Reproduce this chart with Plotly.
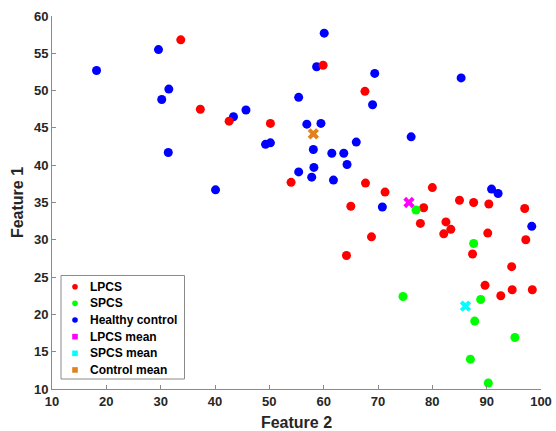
import plotly.graph_objects as go

lpcs_x = [33.7, 37.3, 42.6, 50.2, 59.9, 67.6, 54.0, 67.7, 71.3, 80.0,
          65.0, 64.2, 68.8, 78.4, 85.0, 87.6, 90.4, 97.0, 77.8, 82.5,
          83.4, 82.1, 90.2, 97.2, 87.4, 94.6, 89.7, 94.7, 98.4, 92.6]
lpcs_y = [56.8, 47.5, 45.9, 45.6, 53.4, 49.9, 37.7, 37.6, 36.4, 37.0,
          34.5, 27.9, 30.4, 34.3, 35.3, 35.0, 34.8, 34.2, 32.2, 32.4,
          31.4, 30.8, 30.9, 30.0, 28.1, 26.4, 23.9, 23.3, 23.3, 22.5]

spcs_x = [77.0, 87.6, 88.9, 74.6, 87.8, 95.2, 87.0, 90.3]
spcs_y = [34.0, 29.5, 22.0, 22.4, 19.1, 16.9, 14.0, 10.8]

hc_x = [18.2, 29.6, 31.5, 30.2, 31.4, 60.1, 58.7, 55.4, 69.4, 69.0,
        43.4, 45.7, 56.9, 59.5, 49.3, 50.2, 58.1, 66.0, 61.5, 63.7,
        64.3, 58.2, 55.4, 57.8, 61.8, 40.1, 85.3, 76.1, 90.9, 92.1,
        70.8, 98.3]
hc_y = [52.7, 55.5, 50.2, 48.8, 41.7, 57.7, 53.2, 49.1, 52.3, 48.1,
        46.5, 47.4, 45.5, 45.6, 42.8, 43.0, 42.1, 43.1, 41.6, 41.6,
        40.1, 39.7, 39.1, 38.4, 38.0, 36.7, 51.7, 43.8, 36.8, 36.2,
        34.4, 31.8]

lpcs_mean = [75.7, 35.0]
spcs_mean = [86.1, 21.1]
ctrl_mean = [58.1, 44.2]

names = ["LPCS", "SPCS", "Healthy control", "LPCS mean", "SPCS mean", "Control mean"]
colors = ["#FF0000", "#00FF00", "#0000FF", "#FF00FF", "#00FFFF", "#E0821E"]

fig = go.Figure()

series = [
    (hc_x, hc_y, 2, "circle"),
    (lpcs_x, lpcs_y, 0, "circle"),
    (spcs_x, spcs_y, 1, "circle"),
    ([lpcs_mean[0]], [lpcs_mean[1]], 3, "x"),
    ([spcs_mean[0]], [spcs_mean[1]], 4, "x"),
    ([ctrl_mean[0]], [ctrl_mean[1]], 5, "x"),
]
for xs, ys, ci, sym in series:
    fig.add_trace(go.Scatter(
        x=xs, y=ys, mode="markers", showlegend=False,
        marker=dict(color=colors[ci], size=9 if sym == "circle" else 10,
                    symbol=sym, line=dict(width=0)),
        hoverinfo="skip"))

# ---- compact legend (box, swatches, labels) in paper coordinates ----
W, H = 556, 431
ML, MR, MT, MB = 52, 15, 16, 42
PW, PH = W - ML - MR, H - MT - MB


def px2paper_x(px):
    return (px - ML) / PW


def px2paper_y(py):
    return (H - MB - py) / PH


shapes = [dict(type="rect", xref="paper", yref="paper",
               x0=px2paper_x(61), x1=px2paper_x(184.5),
               y0=px2paper_y(379), y1=px2paper_y(275.5),
               line=dict(color="#8a8a8a", width=1), fillcolor="white", layer="above")]
annotations = []
row0, step = 286.7, 16.65
for i, nm in enumerate(names):
    py = row0 + i * step
    shapes.append(dict(
        type="circle" if i < 3 else "rect", xref="paper", yref="paper",
        xsizemode="pixel", ysizemode="pixel",
        xanchor=px2paper_x(75), yanchor=px2paper_y(py),
        x0=-2.8, x1=2.8, y0=-2.8, y1=2.8,
        fillcolor=colors[i], line=dict(width=0), layer="above"))
    annotations.append(dict(
        xref="paper", yref="paper", x=px2paper_x(88), y=px2paper_y(py),
        xanchor="left", yanchor="middle", showarrow=False, text=nm,
        font=dict(family="Liberation Sans, Arial", size=12, color="#000000", weight="bold")))

axis_common = dict(
    showgrid=False, zeroline=False, showline=True, linecolor="#8a8a8a",
    linewidth=1, ticks="inside", ticklen=4, tickcolor="#8a8a8a", automargin=False,
    tickfont=dict(family="Liberation Sans, Arial", size=13, color="#262626", weight="bold"),
    mirror=False,
)

fig.update_layout(
    width=W, height=H, autosize=False,
    margin=dict(l=ML, r=MR, t=MT, b=MB, pad=0),
    paper_bgcolor="white", plot_bgcolor="white",
    showlegend=False,
    xaxis=dict(range=[10, 100], dtick=10, tick0=10,
               title=dict(text="Feature 2",
                          font=dict(family="Liberation Sans, Arial", size=16, color="#262626", weight="bold")),
               **axis_common),
    yaxis=dict(range=[10, 60], dtick=5, tick0=10,
               title=dict(text="Feature 1", standoff=6,
                          font=dict(family="Liberation Sans, Arial", size=16, color="#262626", weight="bold")),
               **axis_common),
    shapes=shapes, annotations=annotations,
)

fig.write_html("out.html", config={"displayModeBar": False, "responsive": False},
               post_script="document.body.style.margin='0';")
